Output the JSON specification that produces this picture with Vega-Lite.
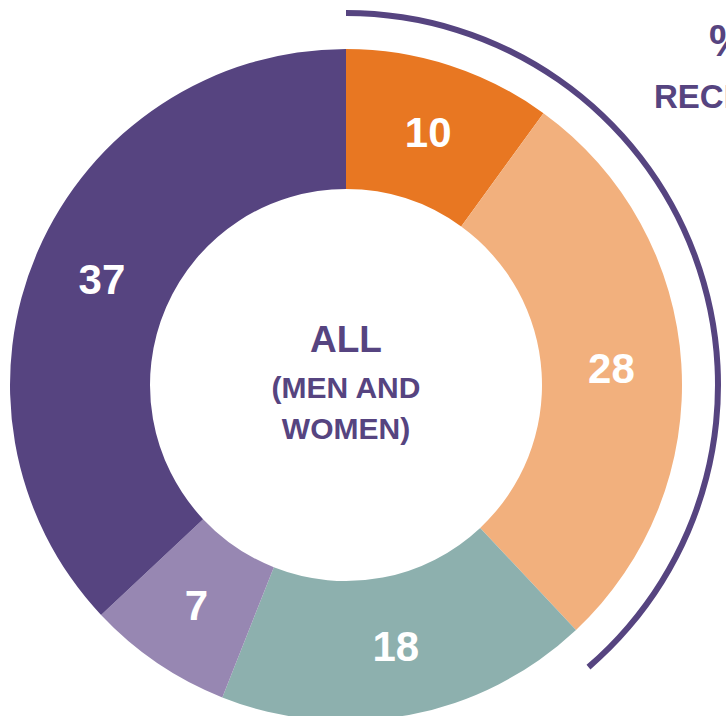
{
  "$schema": "https://vega.github.io/schema/vega-lite/v6.json",
  "autosize": "none",
  "width": 692,
  "height": 692,
  "padding": {"left": 0, "top": 39, "right": 34, "bottom": 0},
  "background": "white",
  "config": {"view": {"stroke": null}, "font": "Liberation Sans"},
  "datasets": {
    "slices": [
      {"idx": 1, "category": "c1", "value": 10},
      {"idx": 2, "category": "c2", "value": 28},
      {"idx": 3, "category": "c3", "value": 18},
      {"idx": 4, "category": "c4", "value": 7},
      {"idx": 5, "category": "c5", "value": 37}
    ],
    "bracket": [{"start": 0, "end": 38.7}]
  },
  "layer": [
    {
      "data": {"name": "slices"},
      "mark": {"type": "arc", "innerRadius": 196, "outerRadius": 336},
      "encoding": {
        "theta": {"field": "value", "type": "quantitative", "stack": true, "scale": {"domain": [0, 100]}},
        "order": {"field": "idx", "type": "quantitative"},
        "color": {
          "field": "category", "type": "nominal", "legend": null,
          "scale": {"domain": ["c1", "c2", "c3", "c4", "c5"], "range": ["#E87722", "#F2B07D", "#8DB0AE", "#9787B2", "#564480"]}
        }
      }
    },
    {
      "data": {"name": "slices"},
      "mark": {"type": "text", "radius": 266, "fontSize": 42, "fontWeight": "bold", "fill": "white", "align": "center", "baseline": "middle", "dy": 2},
      "encoding": {
        "theta": {"field": "value", "type": "quantitative", "stack": true, "scale": {"domain": [0, 100]}},
        "order": {"field": "idx", "type": "quantitative"},
        "detail": {"field": "category", "type": "nominal"},
        "text": {"field": "value", "type": "quantitative"}
      }
    },
    {
      "data": {"name": "bracket"},
      "mark": {"type": "arc", "innerRadius": 369, "outerRadius": 375, "fill": "#564480"},
      "encoding": {
        "theta": {"field": "start", "type": "quantitative", "scale": {"domain": [0, 100]}},
        "theta2": {"field": "end"}
      }
    },
    {
      "data": {"values": [{"label": "ALL"}]},
      "mark": {"type": "text", "fontSize": 37, "fontWeight": "bold", "fill": "#564480", "align": "center", "baseline": "middle", "dy": -44},
      "encoding": {"text": {"field": "label", "type": "nominal"}}
    },
    {
      "data": {"values": [{"label": "(MEN AND"}]},
      "mark": {"type": "text", "fontSize": 30, "fontWeight": "bold", "fill": "#564480", "align": "center", "baseline": "middle", "dy": 4},
      "encoding": {"text": {"field": "label", "type": "nominal"}}
    },
    {
      "data": {"values": [{"label": "WOMEN)"}]},
      "mark": {"type": "text", "fontSize": 30, "fontWeight": "bold", "fill": "#564480", "align": "center", "baseline": "middle", "dy": 45},
      "encoding": {"text": {"field": "label", "type": "nominal"}}
    },
    {
      "data": {"values": [{"label": "%"}]},
      "mark": {"type": "text", "fontSize": 44, "fontWeight": "bold", "fill": "#564480", "align": "left", "baseline": "middle", "dx": 363, "dy": -342},
      "encoding": {"text": {"field": "label", "type": "nominal"}}
    },
    {
      "data": {"values": [{"label": "RECEIVED"}]},
      "mark": {"type": "text", "fontSize": 33, "fontWeight": "bold", "fill": "#564480", "align": "left", "baseline": "middle", "dx": 308, "dy": -287},
      "encoding": {"text": {"field": "label", "type": "nominal"}}
    }
  ]
}
